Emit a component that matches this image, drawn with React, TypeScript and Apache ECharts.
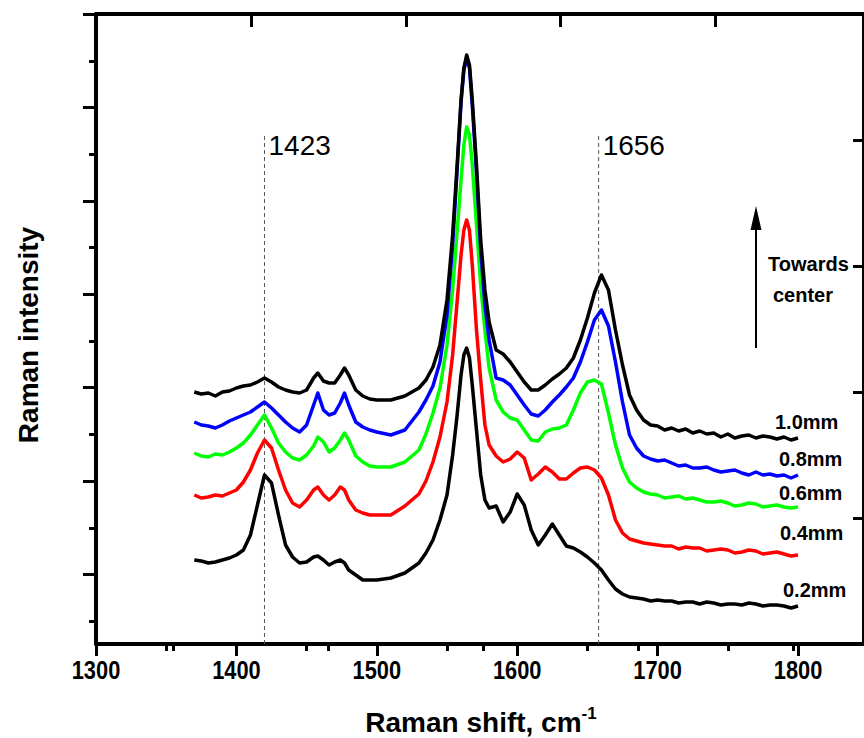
import React, { useEffect, useRef } from "react";
import * as echarts from "echarts";

// Raman shift (cm-1) sample positions shared by all spectra
const SHIFT = [
  1370, 1375, 1380, 1385, 1390, 1395, 1400,
  1405, 1410, 1415, 1420, 1425, 1430, 1435, 1440, 1445, 1450, 1455, 1458,
  1462, 1466, 1470, 1474, 1477, 1480, 1485, 1490, 1495, 1500, 1510, 1520, 1530, 1535, 1540, 1545,
  1550, 1554, 1557, 1560, 1562, 1564, 1566, 1568, 1571, 1574, 1577, 1580, 1585, 1590, 1595, 1600,
  1605, 1610, 1615, 1620, 1625, 1630, 1635, 1640, 1645, 1650, 1655, 1660, 1665, 1670, 1675, 1680,
  1685, 1690, 1695, 1700, 1705, 1710, 1715, 1720, 1725, 1730, 1735, 1740, 1745, 1750, 1755, 1760,
  1765, 1770, 1775, 1780, 1785, 1790, 1795, 1800,
];

// Intensities (arbitrary units, offset stacked as in the figure)
const I_10MM = [
  252, 250, 251, 248, 252, 253, 256,
  258, 259, 262, 266, 262, 257, 254, 252, 251, 254, 266, 271,
  263, 261, 261, 269, 276, 269, 254, 248, 245, 244, 244, 248, 256, 264, 277, 299,
  344, 409, 474, 544, 576, 589, 579, 544, 479, 404, 354, 322, 294, 290, 282, 272,
  262, 254, 254, 259, 265, 270, 276, 286, 304, 326, 351, 369, 354, 314, 279, 249,
  234, 224, 219, 218, 214, 216, 213, 215, 211, 213, 210, 211, 207, 210, 206, 208,
  209, 206, 208, 207, 205, 207, 204, 206,
];
const I_08MM = [
  222, 219, 218, 216, 219, 223, 226,
  229, 232, 237, 242, 236, 229, 222, 216, 212, 219, 239, 251,
  234, 229, 231, 241, 251, 239, 222, 217, 214, 212, 209, 214, 232, 244, 258, 282,
  329, 399, 469, 542, 574, 586, 576, 539, 472, 394, 339, 304, 266, 264, 259, 249,
  239, 230, 228, 234, 242, 249, 257, 266, 282, 302, 324, 334, 318, 282, 242, 209,
  196, 188, 185, 183, 184, 181, 178, 179, 176, 176, 177, 174, 172, 173, 174, 171,
  169, 172, 169, 170, 168, 169, 166, 169,
];
const I_06MM = [
  191, 188, 187, 190, 189, 192, 196,
  201, 209, 219, 229, 216, 201, 192, 186, 184, 189, 198, 207,
  202, 192, 196, 204, 211, 204, 188, 182, 178, 177, 177, 182, 194, 210, 231, 256,
  299, 354, 409, 464, 499, 517, 509, 479, 419, 359, 314, 276, 244, 232, 226, 224,
  214, 204, 203, 212, 215, 216, 219, 234, 251, 262, 264, 260, 231, 199, 176, 162,
  156, 152, 150, 149, 146, 147, 148, 145, 146, 144, 142, 142, 143, 141, 138, 139,
  141, 140, 137, 138, 139, 137, 136, 137,
];
const I_04MM = [
  149, 146, 147, 149, 148, 151, 154,
  162, 174, 191, 204, 196, 174, 154, 141, 137, 144, 154, 157,
  149, 144, 149, 157, 154, 144, 134, 131, 129, 129, 129, 138, 150, 163, 182, 207,
  242, 289, 339, 389, 414, 424, 414, 379, 314, 264, 219, 199, 188, 182, 185, 192,
  186, 164, 170, 177, 172, 165, 165, 171, 176, 177, 174, 166, 149, 124, 111, 105,
  103, 101, 100, 99, 98, 98, 95, 97, 96, 96, 93, 94, 95, 94, 91, 92,
  94, 93, 90, 91, 92, 90, 88, 89,
];
const I_02MM = [
  84, 83, 81, 82, 84, 86, 89,
  94, 109, 139, 169, 161, 129, 99, 87, 81, 82, 87, 88,
  84, 79, 82, 84, 81, 74, 69, 64, 64, 64, 66, 71, 81, 91, 104, 124,
  149, 189, 226, 269, 289, 296, 286, 259, 214, 169, 144, 136, 138, 122, 132, 150,
  139, 114, 99, 109, 120, 109, 98, 96, 92, 87, 81, 74, 64, 55, 50, 47,
  46, 45, 43, 44, 43, 43, 41, 42, 42, 40, 42, 41, 39, 40, 40, 39,
  41, 40, 38, 39, 39, 38, 36, 38,
];

const SERIES_NAMES = ["0.2mm", "0.4mm", "0.6mm", "0.8mm", "1.0mm"];
const SERIES_VALUES = [I_02MM, I_04MM, I_06MM, I_08MM, I_10MM];
const SERIES_COLORS = ["#000000", "#ff0000", "#00ff00", "#0000ff", "#000000"];

// Bottom axis
const X_MIN = 1300;
const X_MAX = 1847;
const X_MAJOR = [1300, 1400, 1500, 1600, 1700, 1800];
const X_MINOR = [1350, 1450, 1550, 1650, 1750];
// Top axis (independent frame scale)
const TOP_MAX = 4.958;
const TOP_MAJOR = [0, 1, 2, 3, 4];
const TOP_MINOR = [0.5, 1.5, 2.5, 3.5, 4.5];
// Left axis
const Y_MIN = 0;
const Y_MAX = 630;
const Y_MAJOR = [69.5, 162.9, 256.3, 349.7, 443.1, 536.5, 630];
const Y_MINOR = [22.8, 116.2, 209.6, 303, 396.4, 489.8, 583.2];
// Right axis
const RIGHT_INTERVAL = 126;

// Reference lines
const MARKER_SHIFTS = [1420, 1658];
const MARKER_LABELS = ["1423", "1656"];
const MARKER_TOP = 509;

const FONT = "'Liberation Sans', Arial, Helvetica, sans-serif";

export default function App() {
  const ref = useRef<HTMLDivElement>(null);

  useEffect(() => {
    if (!ref.current) return;
    const chart = echarts.init(ref.current, null, { renderer: "svg" });

    const axisLine = { show: true, onZero: false, lineStyle: { color: "#000", width: 4 } };
    const hiddenLine = { show: false };
    const tickStyle = { color: "#000", width: 3 };

    const spectra = SERIES_VALUES.map((vals, k) => ({
      type: "line",
      name: SERIES_NAMES[k],
      xAxisIndex: 0,
      yAxisIndex: 0,
      showSymbol: false,
      symbol: "none",
      z: 3 + k,
      lineStyle: { color: SERIES_COLORS[k], width: 3.5, join: "round" },
      data: SHIFT.map((x, i) => [x, vals[i]]),
    }));

    const markers = MARKER_SHIFTS.map((x) => ({
      type: "line",
      xAxisIndex: 0,
      yAxisIndex: 0,
      showSymbol: false,
      symbol: "none",
      z: 1,
      lineStyle: { color: "#555", width: 1, type: [4, 3] },
      data: [
        [x, Y_MIN],
        [x, MARKER_TOP],
      ],
    }));

    const option: any = {
      animation: false,
      backgroundColor: "#ffffff",
      grid: { left: 96, top: 14, right: -3, bottom: 94, containLabel: false },
      xAxis: [
        {
          type: "value",
          position: "bottom",
          min: X_MIN,
          max: X_MAX,
          interval: 100,
          axisLine,
          splitLine: { show: false },
          axisTick: { show: true, inside: false, length: 12, customValues: X_MAJOR, lineStyle: tickStyle },
          axisLabel: { show: false },
        },
        {
          type: "value",
          position: "top",
          min: 0,
          max: TOP_MAX,
          interval: 1,
          axisLine,
          splitLine: { show: false },
          axisTick: { show: true, inside: true, length: 13, customValues: TOP_MAJOR, lineStyle: tickStyle },
          axisLabel: { show: false },
        },
        {
          type: "value",
          position: "bottom",
          min: X_MIN,
          max: X_MAX,
          interval: 100,
          axisLine: hiddenLine,
          splitLine: { show: false },
          axisTick: { show: true, inside: false, length: 7, customValues: X_MINOR, lineStyle: tickStyle },
          axisLabel: { show: false },
        },
        {
          type: "value",
          position: "top",
          min: 0,
          max: TOP_MAX,
          interval: 1,
          axisLine: hiddenLine,
          splitLine: { show: false },
          axisTick: { show: true, inside: true, length: 7, customValues: TOP_MINOR, lineStyle: tickStyle },
          axisLabel: { show: false },
        },
      ],
      yAxis: [
        {
          type: "value",
          position: "left",
          min: Y_MIN,
          max: Y_MAX,
          axisLine,
          splitLine: { show: false },
          axisTick: { show: true, inside: false, length: 13, customValues: Y_MAJOR, lineStyle: tickStyle },
          axisLabel: { show: false },
        },
        {
          type: "value",
          position: "right",
          min: Y_MIN,
          max: Y_MAX,
          interval: RIGHT_INTERVAL,
          axisLine,
          splitLine: { show: false },
          axisTick: { show: true, inside: true, length: 11, lineStyle: tickStyle },
          axisLabel: { show: false },
        },
        {
          type: "value",
          position: "left",
          min: Y_MIN,
          max: Y_MAX,
          axisLine: hiddenLine,
          splitLine: { show: false },
          axisTick: { show: true, inside: false, length: 7, customValues: Y_MINOR, lineStyle: tickStyle },
          axisLabel: { show: false },
        },
      ],
      series: [...markers, ...spectra],
    };

    chart.setOption(option);

    // Bottom tick labels, placed through the axis scale (condensed bold face as in the figure)
    const tickLabels = X_MAJOR.map((v) => {
      const p = chart.convertToPixel({ xAxisIndex: 0, yAxisIndex: 0 }, [v, Y_MIN]) as number[];
      return {
        type: "text",
        x: p[0],
        y: p[1] + 26,
        scaleX: 0.84,
        style: {
          text: String(v),
          fill: "#000",
          font: `bold 26px ${FONT}`,
          align: "center",
          verticalAlign: "middle",
        },
      };
    });

    const markerTexts = MARKER_SHIFTS.map((x, k) => {
      const p = chart.convertToPixel({ xAxisIndex: 0, yAxisIndex: 0 }, [x, MARKER_TOP]) as number[];
      return {
        type: "text",
        x: p[0] + 4,
        y: p[1] + 10,
        style: {
          text: MARKER_LABELS[k],
          fill: "#000",
          font: `28px ${FONT}`,
          align: "left",
          verticalAlign: "middle",
        },
      };
    });

    const curveLabelPos = [
      [783, 590],
      [780, 533],
      [779, 493],
      [779, 459],
      [775, 422],
    ];
    const curveLabels = SERIES_NAMES.map((name, k) => ({
      type: "text",
      x: curveLabelPos[k][0],
      y: curveLabelPos[k][1],
      style: {
        text: name,
        fill: "#000",
        font: `bold 20px ${FONT}`,
        align: "left",
        verticalAlign: "middle",
      },
    }));

    chart.setOption({
      graphic: [
        ...tickLabels,
        ...markerTexts,
        ...curveLabels,
        {
          type: "text",
          x: 28,
          y: 335,
          rotation: Math.PI / 2,
          style: {
            text: "Raman intensity",
            fill: "#000",
            font: `bold 28px ${FONT}`,
            align: "center",
            verticalAlign: "middle",
          },
        },
        {
          type: "text",
          x: 481,
          y: 722,
          style: {
            text: "{a|Raman shift, cm}{b|-1}",
            align: "center",
            verticalAlign: "middle",
            rich: {
              a: { fontSize: 28, fontWeight: "bold", fontFamily: FONT, fill: "#000", lineHeight: 34 },
              b: { fontSize: 17, fontWeight: "bold", fontFamily: FONT, fill: "#000", lineHeight: 20, verticalAlign: "top" },
            },
          },
        },
        {
          type: "text",
          x: 768,
          y: 264,
          style: { text: "Towards", fill: "#000", font: `bold 20px ${FONT}`, align: "left", verticalAlign: "middle" },
        },
        {
          type: "text",
          x: 773,
          y: 295,
          style: { text: "center", fill: "#000", font: `bold 20px ${FONT}`, align: "left", verticalAlign: "middle" },
        },
        {
          type: "line",
          shape: { x1: 756, y1: 348, x2: 756, y2: 226 },
          style: { stroke: "#000", lineWidth: 2 },
        },
        {
          type: "polygon",
          shape: { points: [[756, 206], [750.5, 230], [761.5, 230]] },
          style: { fill: "#000" },
        },
      ],
    });

    return () => chart.dispose();
  }, []);

  return (
    <div
      ref={ref}
      style={{ position: "fixed", left: 0, top: 0, width: 864, height: 738, background: "#fff" }}
    />
  );
}
